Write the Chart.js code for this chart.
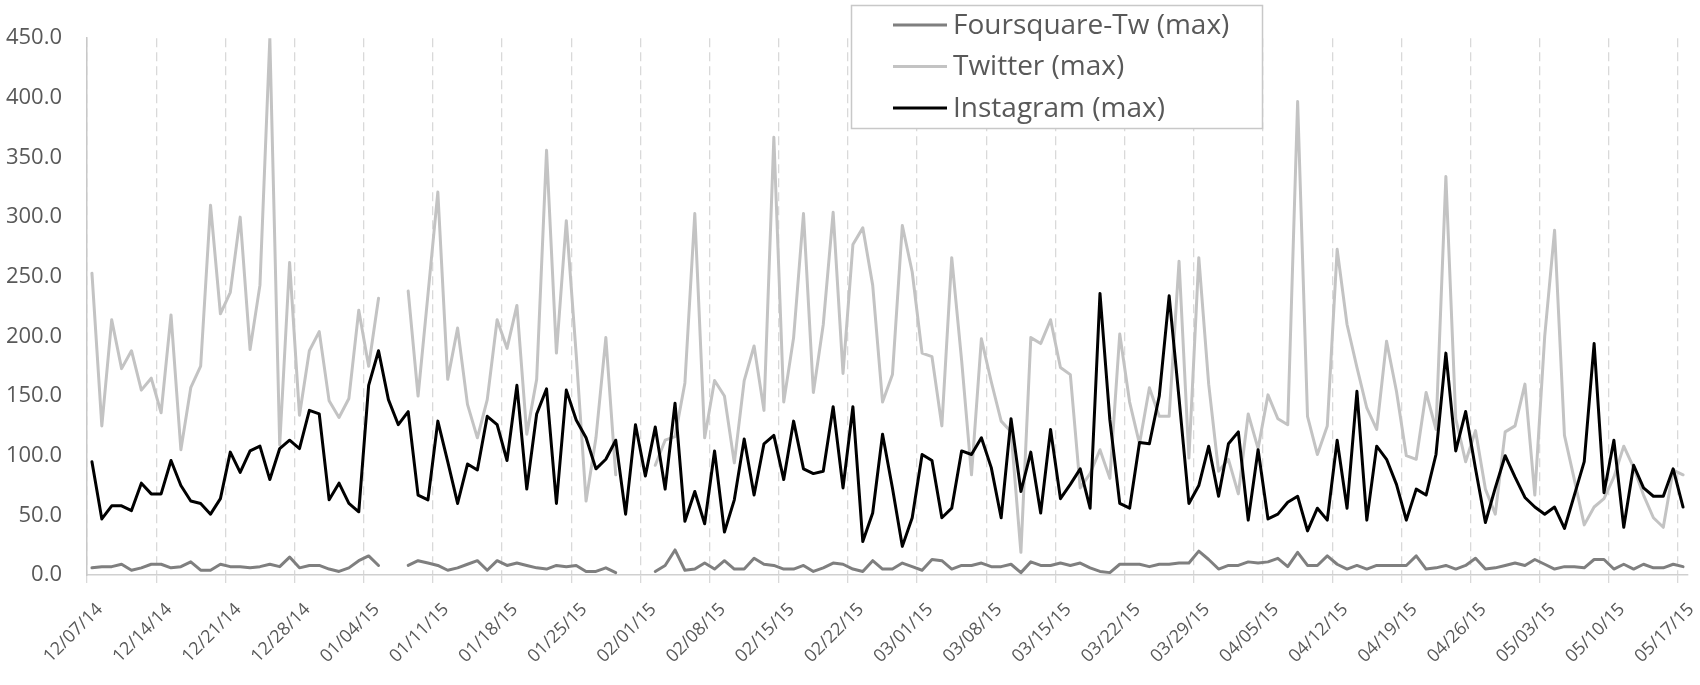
<!DOCTYPE html>
<html>
<head>
<meta charset="utf-8">
<script src="https://cdn.jsdelivr.net/npm/chart.js@4.4.1/dist/chart.umd.min.js"></script>
<style>
  html, body { margin: 0; padding: 0; background: #fff; }
  #wrap { width: 1700px; height: 685px; }
</style>
</head>
<body>
<div id="wrap"><canvas id="chart" width="1700" height="685"></canvas></div>
<script>
// one point per day, 12/07/14 .. 05/17/15
const days = [];
for (let i = 0; i < 162; i++) {
  const d = new Date(2014, 11, 7 + i);
  const mm = String(d.getMonth() + 1).padStart(2, '0');
  const dd = String(d.getDate()).padStart(2, '0');
  const yy = String(d.getFullYear()).slice(2);
  days.push(`${mm}/${dd}/${yy}`);
}

const yTicks = [0, 50, 100, 150, 200, 250, 300, 350, 400, 450];

// rows of one week each
const foursquare = [
  6, 7, 7, 9, 4, 6, 9,
  9, 6, 7, 11, 4, 4, 9,
  7, 7, 6, 7, 9, 7, 15,
  6, 8, 8, 5, 3, 6, 12,
  16, 8, null, null, 8, 12, 10,
  8, 4, 6, 9, 12, 4, 12,
  8, 10, 8, 6, 5, 8, 7,
  8, 3, 3, 6, 2, null, null,
  null, 3, 8, 21, 4, 5, 10,
  5, 12, 5, 5, 14, 9, 8,
  5, 5, 8, 3, 6, 10, 9,
  5, 3, 12, 5, 5, 10, 7,
  4, 13, 12, 5, 8, 8, 10,
  7, 7, 9, 2, 11, 8, 8,
  10, 8, 10, 6, 3, 2, 9,
  9, 9, 7, 9, 9, 10, 10,
  20, 13, 5, 8, 8, 11, 10,
  11, 14, 7, 19, 8, 8, 16,
  9, 5, 8, 5, 8, 8, 8,
  8, 16, 5, 6, 8, 5, 8,
  14, 5, 6, 8, 10, 8, 13,
  9, 5, 7, 7, 6, 13, 13,
  5, 9, 5, 9, 6, 6, 9,
  7
];

const twitter = [
  253, 125, 214, 173, 188, 155, 165,
  136, 218, 105, 157, 175, 310, 219,
  237, 300, 189, 243, 450, 109, 262,
  134, 188, 204, 146, 132, 148, 222,
  175, 232, null, null, 238, 150, 235,
  321, 164, 207, 143, 115, 147, 214,
  190, 226, 118, 164, 356, 186, 297,
  185, 62, 115, 199, 84, null, null,
  null, 92, 113, 116, 161, 303, 115,
  163, 150, 94, 163, 192, 138, 367,
  145, 199, 303, 153, 210, 304, 169,
  277, 291, 243, 145, 168, 293, 254,
  186, 183, 125, 266, 180, 84, 198,
  162, 129, 120, 19, 199, 194, 214,
  174, 168, 73, 85, 105, 81, 202,
  145, 110, 157, 133, 133, 263, 98,
  266, 160, 87, 97, 68, 135, 106,
  151, 131, 126, 397, 133, 101, 125,
  273, 210, 174, 140, 122, 196, 154,
  100, 97, 153, 122, 334, 131, 95,
  121, 72, 51, 120, 125, 160, 67,
  200, 289, 117, 80, 42, 57, 64,
  82, 108, 90, 67, 48, 40, 88,
  84
];

const instagram = [
  95, 47, 58, 58, 54, 77, 68,
  68, 96, 75, 62, 60, 51, 64,
  103, 86, 104, 108, 80, 106, 113,
  106, 138, 135, 63, 77, 60, 53,
  159, 188, 147, 126, 137, 67, 63,
  129, 95, 60, 93, 88, 133, 126,
  96, 159, 72, 135, 156, 60, 155,
  130, 115, 89, 97, 113, 51, 126,
  83, 124, 72, 144, 45, 70, 43,
  104, 36, 63, 114, 67, 110, 117,
  80, 129, 89, 85, 87, 141, 73,
  141, 28, 52, 118, 73, 24, 48,
  101, 96, 48, 56, 104, 101, 115,
  90, 48, 131, 70, 103, 52, 122,
  64, 76, 89, 56, 236, 130, 60,
  56, 111, 110, 150, 234, 148, 60,
  75, 108, 66, 110, 120, 46, 105,
  47, 51, 61, 66, 37, 56, 46,
  113, 56, 154, 46, 108, 97, 76,
  46, 72, 67, 101, 186, 104, 137,
  89, 44, 73, 100, 82, 65, 57,
  51, 57, 39, 67, 95, 194, 69,
  113, 40, 92, 73, 66, 66, 89,
  57
];

const TEXT = '#595959';
const FONT = 'Open Sans, sans-serif';

// legend box sitting over the top of the plot, like the Excel original
const boxLegend = {
  id: 'boxLegend',
  afterDraw(chart) {
    const ctx = chart.ctx;
    ctx.save();
    ctx.fillStyle = '#fff';
    ctx.fillRect(851, 5, 411, 123);
    ctx.strokeStyle = '#c8c8c8';
    ctx.lineWidth = 1.5;
    ctx.strokeRect(851.5, 5.5, 411, 123);
    ctx.font = '28px ' + FONT;
    ctx.textBaseline = 'middle';
    chart.data.datasets.forEach((ds, i) => {
      const y = 25 + i * 41.5;
      ctx.strokeStyle = ds.borderColor;
      ctx.lineWidth = 3;
      ctx.beginPath();
      ctx.moveTo(893, y);
      ctx.lineTo(947, y);
      ctx.stroke();
      ctx.fillStyle = TEXT;
      ctx.fillText(ds.label, 953, y + 1);
    });
    ctx.restore();
  }
};

new Chart(document.getElementById('chart'), {
  type: 'line',
  data: {
    labels: days,
    datasets: [
      { label: 'Foursquare-Tw (max)', data: foursquare, borderColor: '#7f7f7f', borderWidth: 3, order: 3 },
      { label: 'Twitter (max)', data: twitter, borderColor: '#c3c3c3', borderWidth: 3, order: 2 },
      { label: 'Instagram (max)', data: instagram, borderColor: '#000000', borderWidth: 3, order: 1 },
    ],
  },
  options: {
    responsive: false,
    animation: false,
    devicePixelRatio: 1,
    spanGaps: false,
    elements: {
      point: { radius: 0, hoverRadius: 0 },
      line: { tension: 0, borderCapStyle: 'round', borderJoinStyle: 'round' },
    },
    layout: { padding: { left: 0, right: 12, top: 22, bottom: 0 } },
    plugins: {
      legend: { display: false },
      tooltip: { enabled: false },
    },
    scales: {
      x: {
        offset: true,
        afterFit: s => { s.height = 110; s.paddingLeft = 0; s.paddingRight = 0; },
        grid: {
          offset: true,
          color: ctx => (ctx.index % 7 === 0 ? '#d9d9d9' : 'rgba(0,0,0,0)'),
          lineWidth: 1.3,
          tickLength: 8,
        },
        border: { display: true, color: '#d0d0d0', width: 1.5, dash: [9, 5] },
        ticks: {
          autoSkip: false,
          maxRotation: 45,
          minRotation: 45,
          padding: 16,
          labelOffset: 8,
          color: TEXT,
          font: { family: FONT, size: 18 },
          callback: function (val, idx) {
            return idx % 7 === 0 ? this.getLabelForValue(val) : '';
          },
        },
      },
      y: {
        min: 0,
        max: 450,
        afterBuildTicks: axis => { axis.ticks = yTicks.map(v => ({ value: v })); },
        afterFit: s => { s.width = 87; },
        grid: { display: false, drawTicks: false },
        border: { display: true, color: '#c8c8c8', width: 1.5 },
        ticks: {
          padding: 25,
          color: TEXT,
          font: { family: FONT, size: 22 },
          callback: v => v.toFixed(1),
        },
      },
    },
  },
  plugins: [boxLegend],
});
</script>
</body>
</html>
